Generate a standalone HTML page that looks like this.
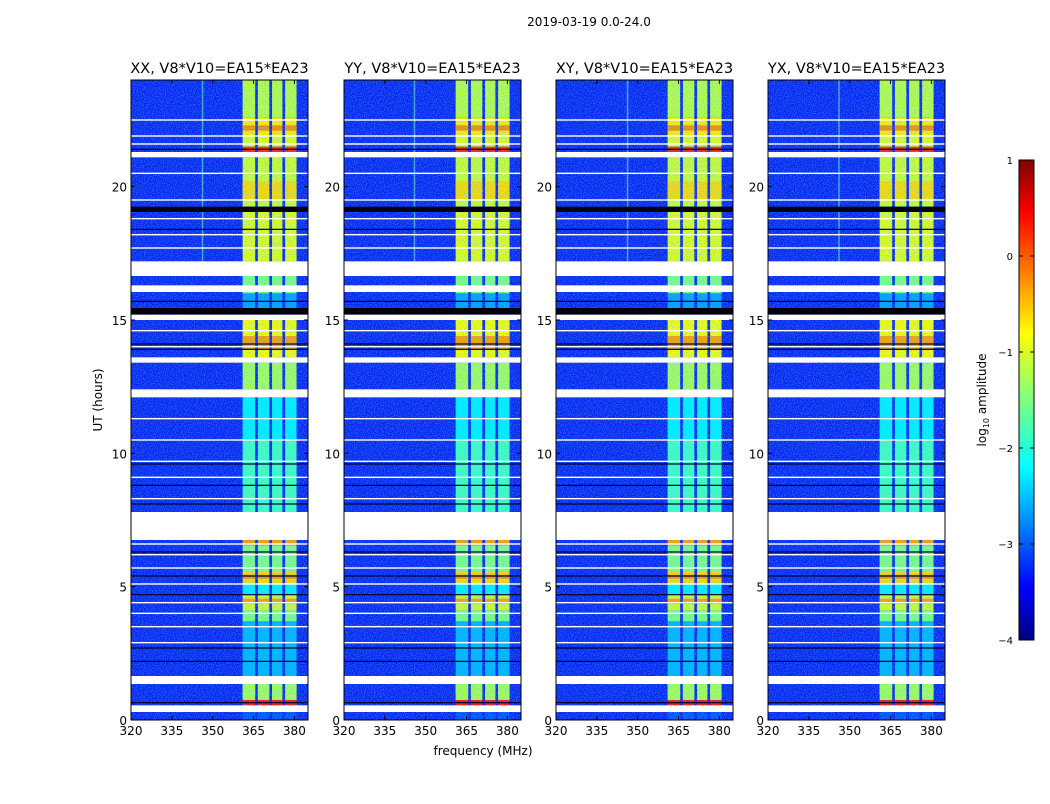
<!DOCTYPE html>
<html><head><meta charset="utf-8">
<style>
body{margin:0;background:#fff;font-family:"DejaVu Sans","Liberation Sans",sans-serif;}
svg text{font-family:"DejaVu Sans","Liberation Sans",sans-serif;}
</style></head>
<body>
<svg id="fig" width="1050" height="800" viewBox="0 0 1050 800" xmlns="http://www.w3.org/2000/svg">
<defs>
<filter id="noise" x="0" y="0" width="100%" height="100%">
<feTurbulence type="fractalNoise" baseFrequency="0.9" numOctaves="1" seed="3"/>
<feColorMatrix values="0 0 0 0 0.05  0 0 0 0 0.55  0 0 0 0 1  1.8 0 0 0 -0.75"/>
</filter>
<linearGradient id="jet" x1="0" y1="1" x2="0" y2="0">
<stop offset="0" stop-color="#00007f"/><stop offset="0.11" stop-color="#0000ff"/>
<stop offset="0.36" stop-color="#00ffff"/><stop offset="0.5" stop-color="#7fff7f"/>
<stop offset="0.64" stop-color="#ffff00"/><stop offset="0.89" stop-color="#ff0000"/>
<stop offset="1" stop-color="#7f0000"/>
</linearGradient>
</defs>
<text x="589" y="26" font-size="12" text-anchor="middle">2019-03-19 0.0-24.0</text>
<text x="483" y="755" font-size="12" text-anchor="middle">frequency (MHz)</text>
<text transform="translate(102,400) rotate(-90)" font-size="12" text-anchor="middle">UT (hours)</text>
<g id="panels"></g>
<g>
<rect x="1019" y="160" width="15" height="480" fill="url(#jet)" stroke="#000" stroke-width="1"/>
<g id="cbticks"></g>
<text transform="translate(986,400) rotate(-90)" font-size="12" text-anchor="middle">log<tspan font-size="8" dy="3">10</tspan><tspan dy="-3"> amplitude</tspan></text>
</g>
</svg>
<script>
const panelTitles = ["XX, V8*V10=EA15*EA23","YY, V8*V10=EA15*EA23","XY, V8*V10=EA15*EA23","YX, V8*V10=EA15*EA23"];
const panelLefts = [131,344,556,768];
const xTicks = [320,335,350,365,380];
const yTicks = [0,5,10,15,20];
const cbTicks = [1,0,-1,-2,-3,-4];
// band channel edges (MHz)
const channels = [[361,365.6],[366.6,370.8],[371.8,375.6],[376.6,380.8]];
// time segments [startHour, endHour, log10 amplitude in band]
const segments = [
[0,0.3,-3],[0.55,0.95,0.3],[0.95,1.35,-1.2],[0.75,1.35,-1.3],[1.65,3.7,-2.5],[3.7,4.1,-1.5],[4.1,4.7,-1.1],[4.35,4.55,-0.4],
[4.7,5.1,-2.2],[5.1,5.55,-0.7],[5.3,5.45,-0.3],[5.55,6.55,-1.5],[6.55,6.75,-0.4],
[7.8,10.5,-1.8],[10.5,12.1,-2.2],[12.4,13.4,-1.3],[13.6,15.0,-0.9],[13.9,14.4,-0.4],
[15.45,16.0,-2.6],[16.0,16.65,-1.5],[17.2,19.05,-1.0],[19.25,21.1,-1.1],[19.5,20.2,-0.7],
[21.3,21.5,0.2],[21.5,21.9,-1.0],[21.9,22.6,-0.8],[22.1,22.3,-0.3],[22.6,24,-1.2]
];
// flagged (missing) intervals, hours
const gaps = [[0.3,0.55],[1.35,1.65],[6.75,7.8],[12.1,12.4],[13.4,13.6],[15.0,15.2],[16.05,16.3],[16.65,17.2],[21.1,21.3]];
const blackBands = [[15.2,15.45],[19.05,19.25]];
const whiteLines = [22.5,21.9,21.6,20.5,19.5,18.8,18.2,17.7,16.2,14.6,14.0,11.3,10.5,9.7,9.1,8.3,6.6,6.2,5.7,5.1,4.4,4.0,3.5,2.9,0.4];
const blackLines = [21.4,18.4,15.7,14.1,13.9,9.6,8.8,8.1,6.3,5.4,4.7,2.7,2.2,0.65];
const rfiLineMHz = [346,345.6,346,345.8];

const NS="http://www.w3.org/2000/svg";
const top0=80, bot0=720, pw=177;
function yS(h){return bot0-(h/24)*(bot0-top0);}
function xS(f,L){return L+(f-320)/(385-320)*pw;}
function jet(v){const t=(v+4)/5;const r=Math.min(1,Math.max(0,Math.min(4*t-1.5,-4*t+4.5)));const g=Math.min(1,Math.max(0,Math.min(4*t-0.5,-4*t+3.5)));const b=Math.min(1,Math.max(0,Math.min(4*t+0.5,-4*t+2.5)));return `rgb(${Math.round(r*255)},${Math.round(g*255)},${Math.round(b*255)})`;}
function mk(tag,attrs,parent){const e=document.createElementNS(NS,tag);for(const k in attrs)e.setAttribute(k,attrs[k]);parent.appendChild(e);return e;}
const root=document.getElementById('panels');
panelLefts.forEach((L,pi)=>{
  const g=mk('g',{},root);
  
  
  const cp=mk('clipPath',{id:'cp'+pi},g);mk('rect',{x:L,y:top0,width:pw,height:bot0-top0},cp);
  const body=mk('g',{'clip-path':'url(#cp'+pi+')'},g);
  const bg=mk('rect',{x:L,y:top0,width:pw,height:bot0-top0,fill:'#0a24f2'},body);
  
  
  segments.forEach(s=>{
    channels.forEach(c=>{
      const r=mk('rect',{x:xS(c[0],L),y:yS(s[1]),width:xS(c[1],L)-xS(c[0],L),height:yS(s[0])-yS(s[1]),fill:jet(s[2])},body);
      
      
    });
  });
  const rl=mk('rect',{x:xS(rfiLineMHz[pi],L),y:yS(24),width:1.5,height:yS(17.2)-yS(24),fill:'#5fe0a0',opacity:0.7},body);
  
  
  mk('rect',{x:L,y:top0,width:pw,height:bot0-top0,filter:'url(#noise)',opacity:0.8},body);
  blackLines.forEach(h=>{const r=mk('rect',{x:L,y:yS(h)-0.6,width:pw,height:1.2,fill:'#000030'},body);
    });
  blackBands.forEach(b=>{const r=mk('rect',{x:L,y:yS(b[1]),width:pw,height:yS(b[0])-yS(b[1]),fill:'#000010'},body);
    });
  whiteLines.forEach(h=>{const r=mk('rect',{x:L,y:yS(h)-0.7,width:pw,height:1.4,fill:'#fff'},body);
    });
  gaps.forEach(b=>{const r=mk('rect',{x:L,y:yS(b[1]),width:pw,height:yS(b[0])-yS(b[1]),fill:'#fff'},body);
    });
  mk('rect',{x:L,y:top0,width:pw,height:bot0-top0,fill:'none',stroke:'#000','stroke-width':1},g);
  const t=mk('text',{x:L+pw/2,y:73,'font-size':14.5,'text-anchor':'middle'},g);t.textContent=panelTitles[pi];
  
  xTicks.forEach(v=>{const x=xS(v,L);
    mk('line',{x1:x,x2:x,y1:bot0,y2:bot0-4,stroke:'#000'},g);mk('line',{x1:x,x2:x,y1:top0,y2:top0+4,stroke:'#000'},g);
    const tt=mk('text',{x:x,y:bot0+15,'font-size':12,'text-anchor':'middle'},g);tt.textContent=v;
    });
  yTicks.forEach(v=>{const y=yS(v);
    mk('line',{x1:L,x2:L+4,y1:y,y2:y,stroke:'#000'},g);mk('line',{x1:L+pw,x2:L+pw-4,y1:y,y2:y,stroke:'#000'},g);
    const tt=mk('text',{x:L-4,y:y+5,'font-size':12,'text-anchor':'end'},g);tt.textContent=v;
    });
});
const cb=document.getElementById('cbticks');
cbTicks.forEach(v=>{const y=160+(1-v)/5*480;
  mk('line',{x1:1019,x2:1023,y1:y,y2:y,stroke:'#000'},cb);mk('line',{x1:1034,x2:1030,y1:y,y2:y,stroke:'#000'},cb);
  const t=mk('text',{x:1013,y:y+4,'font-size':10,'text-anchor':'end'},cb);t.textContent=v<0?'\u2212'+(-v):v;
  });
</script>
</body></html>
